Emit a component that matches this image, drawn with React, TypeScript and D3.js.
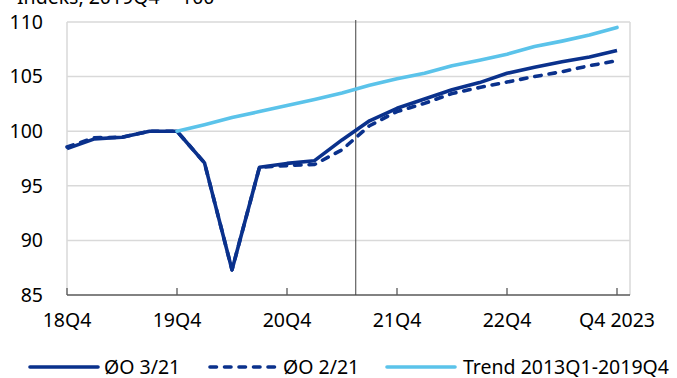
import React from "react";
import * as d3 from "d3";

// Quarters from 18Q4 to 23Q4 (index 0..20)
const quarters = [
  "18Q4", "19Q1", "19Q2", "19Q3", "19Q4",
  "20Q1", "20Q2", "20Q3", "20Q4",
  "21Q1", "21Q2", "21Q3", "21Q4",
  "22Q1", "22Q2", "22Q3", "22Q4",
  "23Q1", "23Q2", "23Q3", "23Q4",
];

const seriesO321: (number | null)[] = [
  98.4, 99.3, 99.45, 100.0, 100.0,
  97.1, 87.3, 96.7, 97.05,
  97.3, 99.2, 100.95, 102.1,
  102.95, 103.8, 104.45, 105.3,
  105.85, 106.35, 106.8, 107.4,
];

const seriesO221: (number | null)[] = [
  98.55, 99.4, 99.45, 100.0, 100.0,
  97.1, 87.3, 96.7, 96.85,
  96.95, 98.3, 100.5, 101.8,
  102.55, 103.45, 104.0, 104.5,
  105.0, 105.45, 106.0, 106.45,
];

const seriesTrend: (number | null)[] = [
  null, null, null, null, 100.0,
  100.6, 101.25, 101.8, 102.35,
  102.9, 103.5, 104.2, 104.8,
  105.3, 106.0, 106.5, 107.05,
  107.75, 108.25, 108.8, 109.5,
];

const xTickIndices = [0, 4, 8, 12, 16, 20];
const xTickLabels = ["18Q4", "19Q4", "20Q4", "21Q4", "22Q4", "Q4 2023"];
const yTicks = [85, 90, 95, 100, 105, 110];
const markerIndex = 10.5; // vertical divider between 21Q2 and 21Q3

const legendItems = [
  { label: "ØO 3/21", kind: "solid" },
  { label: "ØO 2/21", kind: "dashed" },
  { label: "Trend 2013Q1-2019Q4", kind: "trend" },
];

const unitTitle = "Indeks, 2019Q4 = 100";

const DARK = "#0a318c";
const LIGHT = "#5bc3ea";
const GRID = "#d9d9d9";
const AXIS = "#595959";
const FONT = "'Noto Sans', 'Open Sans', sans-serif";

export default function App() {
  const W = 677;
  const H = 378;
  const left = 67;
  const right = 630;
  const top = 22;
  const bottom = 295;

  const x = d3.scaleLinear().domain([0, quarters.length - 1]).range([67, 617]);
  const y = d3.scaleLinear().domain([85, 110]).range([bottom, top]);

  const line = d3
    .line<number | null>()
    .defined((d) => d !== null)
    .x((_, i) => x(i))
    .y((d) => y(d as number));

  const legendPos = [
    { x1: 30, x2: 98, tx: 104 },
    { x1: 210, x2: 278, tx: 283 },
    { x1: 387, x2: 455, tx: 463 },
  ];

  return (
    <svg
      width={W}
      height={H}
      style={{ position: "absolute", left: 0, top: 0, background: "#fff" }}
      fontFamily={FONT}
    >
      {/* unit title, cropped at top */}
      <text x={17} y={4} fontSize={19.5} fill="#000">
        {unitTitle}
      </text>

      {/* gridlines */}
      {yTicks.filter((t) => t > 85).map((t) => (
        <line key={t} x1={left} x2={right} y1={y(t)} y2={y(t)} stroke={GRID} strokeWidth={1.5} />
      ))}
      {/* plot border left/right */}
      <line x1={left} x2={left} y1={top} y2={bottom} stroke={GRID} strokeWidth={1.5} />
      <line x1={right} x2={right} y1={top} y2={bottom} stroke={GRID} strokeWidth={1.5} />

      {/* y labels */}
      {yTicks.map((t) => (
        <text key={t} x={43} y={y(t)} dy="0.35em" textAnchor="end" fontSize={19.5} fill="#000">
          {t}
        </text>
      ))}

      {/* x axis */}
      <line x1={left} x2={right} y1={bottom} y2={bottom} stroke={AXIS} strokeWidth={1.5} />
      {xTickIndices.map((i, k) => (
        <g key={i}>
          <line x1={x(i)} x2={x(i)} y1={bottom} y2={bottom - 7} stroke={AXIS} strokeWidth={1.3} />
          <text x={x(i)} y={327} textAnchor="middle" fontSize={19.5} fill="#000">
            {xTickLabels[k]}
          </text>
        </g>
      ))}

      {/* vertical divider */}
      <line
        x1={x(markerIndex)}
        x2={x(markerIndex)}
        y1={top - 2}
        y2={bottom}
        stroke="#404040"
        strokeWidth={1}
      />

      {/* series */}
      <path d={line(seriesO321) || ""} fill="none" stroke={DARK} strokeWidth={3.6} strokeLinejoin="round" />
      <path
        d={line(seriesO221) || ""}
        fill="none"
        stroke={DARK}
        strokeWidth={3.6}
        strokeDasharray="6.5,8"
        strokeLinecap="round"
        strokeLinejoin="round"
      />
      <path
        d={line(seriesTrend) || ""}
        fill="none"
        stroke={LIGHT}
        strokeWidth={3.6}
        strokeLinecap="round"
        strokeLinejoin="round"
      />

      {/* legend */}
      {legendItems.map((item, i) => {
        const p = legendPos[i];
        return (
          <g key={item.label}>
            <line
              x1={p.x1}
              x2={p.x2}
              y1={367}
              y2={367}
              stroke={item.kind === "trend" ? LIGHT : DARK}
              strokeWidth={3.6}
              strokeLinecap="round"
              strokeDasharray={item.kind === "dashed" ? "6.5,8" : undefined}
            />
            <text x={p.tx} y={367} dy="0.35em" fontSize={19.5} fill="#000">
              {item.label}
            </text>
          </g>
        );
      })}
    </svg>
  );
}
